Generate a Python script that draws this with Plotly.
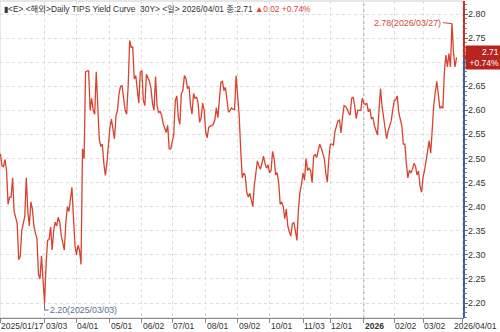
import pandas as pd
import plotly.graph_objects as go

# Trading calendar (US bond market holidays in the period)
HOLIDAYS = ["2025-01-20", "2025-02-17", "2025-05-26", "2025-06-19", "2025-07-04",
            "2025-09-01", "2025-10-13", "2025-11-11", "2025-11-27", "2025-12-25",
            "2026-01-01", "2026-01-19", "2026-02-16"]
dates = pd.bdate_range("2025-01-17", "2026-04-01", freq="C", holidays=HOLIDAYS)

# Daily 30Y TIPS real yield (%)
yields_2025_q1 = [
    2.51, 2.485, 2.483, 2.498, 2.475, 2.405, 2.42, 2.42, 2.46, 2.39,
    2.378, 2.365, 2.29, 2.297, 2.35, 2.366, 2.38, 2.46, 2.39, 2.36, 2.41, 2.395, 2.36, 2.345, 2.335, 2.26, 2.25, 2.298, 2.24,
    2.20, 2.28, 2.33, 2.332, 2.358, 2.31, 2.35, 2.368, 2.36, 2.378, 2.368, 2.34, 2.32, 2.31, 2.366, 2.40, 2.39, 2.415, 2.44, 2.38, 2.32,
]
yields_2025_q2 = [
    2.30, 2.32, 2.31, 2.28, 2.52, 2.50, 2.68, 2.682, 2.682, 2.60, 2.625, 2.60, 2.592, 2.68, 2.61, 2.54, 2.525, 2.53, 2.49, 2.465, 2.49, 2.535,
    2.565, 2.582, 2.56, 2.541, 2.589, 2.60, 2.635, 2.65, 2.651, 2.63, 2.60, 2.592, 2.65, 2.745, 2.731, 2.731, 2.665, 2.672, 2.645, 2.615, 2.68,
    2.682, 2.62, 2.61, 2.675, 2.668, 2.66, 2.645, 2.615, 2.60, 2.67, 2.61, 2.595, 2.598, 2.59, 2.573, 2.565, 2.554, 2.569, 2.52, 2.52,
]
yields_2025_q3 = [
    2.535, 2.55, 2.62, 2.63, 2.585, 2.571, 2.635, 2.641, 2.672, 2.666, 2.645, 2.65, 2.61, 2.592, 2.635, 2.625, 2.628, 2.615, 2.575, 2.585, 2.615, 2.60,
    2.555, 2.543, 2.565, 2.568, 2.568, 2.571, 2.58, 2.605, 2.585, 2.625, 2.658, 2.66, 2.641, 2.648, 2.62, 2.596, 2.60, 2.605, 2.602, 2.602, 2.672,
    2.635, 2.59, 2.52, 2.46, 2.47, 2.465, 2.43, 2.42, 2.428, 2.41, 2.40, 2.445, 2.47, 2.495, 2.485, 2.478, 2.49, 2.505, 2.49, 2.48, 2.487,
]
yields_2025_q4 = [
    2.47, 2.475, 2.515, 2.50, 2.466, 2.471, 2.45, 2.405, 2.41, 2.40, 2.375, 2.395, 2.36, 2.348, 2.339, 2.365, 2.367, 2.35, 2.33, 2.395, 2.43, 2.446,
    2.47, 2.455, 2.50, 2.475, 2.48, 2.475, 2.45, 2.505, 2.508, 2.502, 2.516, 2.53, 2.522, 2.509, 2.50, 2.47, 2.451, 2.50,
    2.53, 2.53, 2.528, 2.556, 2.568, 2.578, 2.58, 2.553, 2.585, 2.61, 2.608, 2.603, 2.595, 2.59, 2.625, 2.628, 2.61, 2.583, 2.60, 2.60, 2.60, 2.625,
]
yields_2026 = [
    2.615, 2.612, 2.615, 2.597, 2.603, 2.583, 2.585, 2.568, 2.557, 2.549, 2.60, 2.645, 2.608, 2.585, 2.562, 2.541, 2.558, 2.57, 2.578, 2.60,
    2.62, 2.622, 2.63, 2.595, 2.584, 2.568, 2.53, 2.53, 2.49, 2.46, 2.476, 2.47, 2.478, 2.49, 2.484, 2.466, 2.474, 2.442, 2.43,
    2.462, 2.476, 2.497, 2.515, 2.537, 2.511, 2.567, 2.61, 2.637, 2.66, 2.634, 2.604, 2.608, 2.604, 2.68, 2.715, 2.69, 2.718, 2.69, 2.78, 2.72, 2.69,
    2.71,
]
yields = yields_2025_q1 + yields_2025_q2 + yields_2025_q3 + yields_2025_q4 + yields_2026
assert len(yields) == len(dates), (len(yields), len(dates))

# Axis labels
tick_dates = ["2025-01-17", "2025-03-03", "2025-04-01", "2025-05-01", "2025-06-02", "2025-07-01",
              "2025-08-01", "2025-09-02", "2025-10-01", "2025-11-03", "2025-12-01", "2026-01-02",
              "2026-02-02", "2026-03-02"]
tick_text = ["2025/01/17", "03/03", "04/01", "05/01", "06/02", "07/01", "08/01", "09/02",
             "10/01", "11/03", "12/01", "<b>2026</b>", "02/02", "03/02"]
y_ticks = [2.20, 2.25, 2.30, 2.35, 2.40, 2.45, 2.50, 2.55, 2.60, 2.65, 2.70, 2.75, 2.80]

RED = "#d8432f"
BLUE = "#3f5f9e"
FONT = "Liberation Sans Narrow, Arial Narrow, Liberation Sans, Noto Sans CJK KR, sans-serif"

x = list(range(len(dates)))
pos = {d: i for i, d in enumerate(dates.strftime("%Y-%m-%d"))}
tick_vals = [pos[d] for d in tick_dates]

last = yields[-1]
prev = yields[-2]
chg = last - prev
pct = chg / prev * 100
i_max = max(range(len(yields)), key=lambda i: yields[i])
i_min = min(range(len(yields)), key=lambda i: yields[i])

x_end = len(dates) - 1 + 4.9
y_lo, y_hi = 2.169, 2.827

fig = go.Figure()
fig.add_trace(go.Scatter(x=x, y=yields, mode="lines",
                         line=dict(color=RED, width=1.3), hoverinfo="skip"))

fig.update_layout(
    width=500, height=332,
    margin=dict(l=0, r=36, t=1, b=14, autoexpand=False),
    paper_bgcolor="white", plot_bgcolor="white",
    showlegend=False,
    font=dict(family=FONT, size=9, color="#333333"),
)
# tick marks and grid come from the axes; the labels are written next to them below
fig.update_xaxes(
    range=[-0.3, x_end], automargin=False,
    tickvals=tick_vals + [len(dates) - 1 + 4],
    ticktext=[""] * (len(tick_vals) + 1),
    ticks="outside", ticklen=4, tickcolor="#888888",
    showline=True, linecolor="#8a8a8a", linewidth=1,
    showgrid=True, gridcolor="#dddddd", griddash="dot", gridwidth=1,
    zeroline=False,
)
fig.update_yaxes(
    range=[y_lo, y_hi], side="right", automargin=False,
    tickvals=y_ticks, ticktext=[""] * len(y_ticks),
    ticks="outside", ticklen=3, tickcolor="#666666",
    minor=dict(dtick=0.01, ticks="outside", ticklen=2, tickcolor="#888888", showgrid=False),
    showline=False,
    showgrid=True, gridcolor="#dddddd", griddash="dot", gridwidth=1,
    zeroline=False,
)

shapes = [
    # light frame
    dict(type="rect", xref="paper", yref="paper", x0=0, x1=1, y0=0, y1=1,
         line=dict(color="#cfcfcf", width=1), layer="below"),
    # year separator
    dict(type="line", xref="x", yref="paper", x0=pos["2026-01-02"], x1=pos["2026-01-02"], y0=0, y1=1,
         line=dict(color="#9c9c9c", width=1, dash="dot"), layer="below"),
    # price axis: red above the last value, blue below
    dict(type="line", xref="paper", yref="y", x0=1, x1=1, y0=last, y1=y_hi,
         line=dict(color="#c8302a", width=2)),
    dict(type="line", xref="paper", yref="y", x0=1, x1=1, y0=y_lo, y1=last,
         line=dict(color=BLUE, width=2)),
    # pointer of the last-value tag
    dict(type="path", xref="paper", yref="y", xsizemode="pixel", ysizemode="pixel",
         xanchor=1, yanchor=last, path="M0,0 L5,7 L5,-7 Z",
         fillcolor="#c12a22", line=dict(width=0)),
    # min connector
    dict(type="path", xref="x", yref="y", xsizemode="pixel", ysizemode="pixel",
         xanchor=i_min, yanchor=yields[i_min], path="M0,0 L0,-7 L4,-7",
         line=dict(color="#5b6f8f", width=1)),
]
fig.update_layout(shapes=shapes)

annotations = [
    dict(xref="paper", yref="paper", x=0.004, y=1, xanchor="left", yanchor="top", yshift=-1,
         showarrow=False, align="left",
         text=("▮&lt;E&gt; &lt;해외&gt;Daily TIPS Yield Curve  30Y&gt; &lt;일&gt; "
               f"{dates[-1].strftime('%Y/%m/%d')} 종:{last:.2f} "
               f"<span style='color:{RED}'>▲{chg:.2f} +{pct:.2f}%</span>"),
         font=dict(size=8.4, color="#333333")),
    dict(xref="x", yref="y", x=i_max, y=yields[i_max],
         text=f"{yields[i_max]:.2f}({dates[i_max].strftime('%Y/%m/%d')})",
         showarrow=True, arrowhead=0, arrowwidth=1, arrowcolor="#d0473a",
         ax=-9, ay=-1, xanchor="right", yanchor="middle", standoff=0,
         font=dict(size=8.8, color="#d0473a")),
    dict(xref="x", yref="y", x=i_min, y=yields[i_min],
         text=f"{yields[i_min]:.2f}({dates[i_min].strftime('%Y/%m/%d')})",
         showarrow=False, xanchor="left", yanchor="middle", xshift=3, yshift=-7,
         font=dict(size=8.8, color="#5b6f8f")),
    # date of the last observation under the price axis
    dict(xref="paper", yref="paper", x=1, y=0, xanchor="right", yanchor="top",
         xshift=35, yshift=-1, showarrow=False,
         text=dates[-1].strftime("%Y/%m/%d"),
         font=dict(size=8.5, color="#333333")),
]
# date labels, left-aligned after each tick mark
for tv, tt in zip(tick_vals, tick_text):
    annotations.append(dict(xref="x", yref="paper", x=tv, y=0, xanchor="left", yanchor="top",
                            xshift=-1, yshift=-1, showarrow=False, text=tt,
                            font=dict(size=8.5, color="#333333")))
# price labels on the right axis (the one under the last-value tag is covered by it)
for v in y_ticks:
    if abs(v - last) < 0.025:
        continue
    annotations.append(dict(xref="paper", yref="y", x=1, y=v, xanchor="left", yanchor="middle",
                            xshift=2, showarrow=False, text=f"{v:.2f}",
                            font=dict(size=9, color="#333333")))
# last-value tag
annotations.append(dict(xref="paper", yref="y", x=1, y=last, xanchor="left", yanchor="middle", xshift=1,
                        text=f"{last:.2f}<br>+{pct:.2f}%", showarrow=False, align="right",
                        bgcolor="#b8241e", borderpad=1, width=32, height=21,
                        font=dict(size=8.5, color="white")))
fig.update_layout(annotations=annotations)

fig.write_html("out.html", config={"displayModeBar": False})
